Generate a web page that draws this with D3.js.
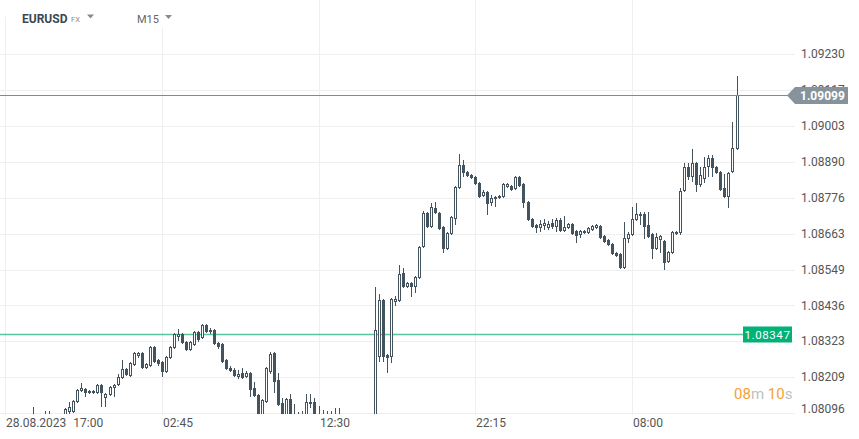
<!DOCTYPE html>
<html><head><meta charset="utf-8">
<script src="https://cdn.jsdelivr.net/npm/d3@7"></script>
<style>
html,body{margin:0;padding:0;background:#fff;}
svg{display:block;font-family:Roboto,"Noto Sans",sans-serif;}
</style></head>
<body><svg id="chart" width="859" height="439"></svg>
<script>
// ---- data ----
const symbol = "EURUSD", market = "FX", interval = "M15";
const firstCandle = "2023-08-28T17:00:00";
const opens = [1.08058,1.08048,1.08061,1.08052,1.08042,1.08058,1.08071,1.08083,1.08077,1.08071,
1.08080,1.08086,1.08090,1.08080,1.08083,1.08090,1.08099,1.08099,1.08131,1.08165,
1.08172,1.08159,1.08165,1.08159,1.08184,1.08143,1.08153,1.08175,1.08184,1.08206,
1.08235,1.08213,1.08248,1.08276,1.08285,1.08238,1.08244,1.08304,1.08263,1.08257,
1.08225,1.08270,1.08301,1.08336,1.08346,1.08320,1.08295,1.08311,1.08352,1.08333,
1.08374,1.08352,1.08358,1.08317,1.08314,1.08263,1.08238,1.08232,1.08210,1.08222,
1.08210,1.08222,1.08175,1.08153,1.08080,1.08131,1.08225,1.08285,1.08200,1.08127,
1.08080,1.08140,1.08086,1.08086,1.08083,1.08086,1.08124,1.08131,1.08086,1.08080,
1.08074,1.08080,1.08071,1.08077,1.08068,1.08061,1.08055,1.08064,1.08058,1.08052,
1.08061,1.08055,1.08058,1.08273,1.08453,1.08279,1.08273,1.08447,1.08450,1.08538,
1.08494,1.08507,1.08494,1.08522,1.08620,1.08728,1.08684,1.08744,1.08728,1.08684,
1.08614,1.08662,1.08709,1.08807,1.08880,1.08857,1.08848,1.08842,1.08823,1.08782,
1.08794,1.08759,1.08772,1.08775,1.08778,1.08810,1.08813,1.08804,1.08842,1.08820,
1.08763,1.08709,1.08690,1.08680,1.08687,1.08680,1.08696,1.08684,1.08706,1.08671,
1.08680,1.08693,1.08671,1.08658,1.08665,1.08665,1.08674,1.08680,1.08687,1.08655,
1.08643,1.08630,1.08601,1.08598,1.08554,1.08646,1.08658,1.08706,1.08725,1.08725,
1.08690,1.08662,1.08614,1.08643,1.08639,1.08573,1.08601,1.08662,1.08665,1.08797,
1.08873,1.08842,1.08886,1.08816,1.08835,1.08873,1.08902,1.08873,1.08857,1.08807,
1.08778,1.08857,1.08930];
const highs = [1.08080,1.08074,1.08077,1.08071,1.08068,1.08077,1.08086,1.08115,1.08086,1.08086,
1.08102,1.08102,1.08093,1.08090,1.08090,1.08112,1.08131,1.08137,1.08172,1.08191,
1.08175,1.08169,1.08169,1.08188,1.08188,1.08159,1.08181,1.08188,1.08219,1.08263,
1.08238,1.08257,1.08289,1.08289,1.08289,1.08254,1.08308,1.08308,1.08267,1.08260,
1.08276,1.08308,1.08349,1.08361,1.08349,1.08323,1.08323,1.08355,1.08355,1.08377,
1.08377,1.08364,1.08361,1.08320,1.08317,1.08267,1.08244,1.08238,1.08232,1.08238,
1.08229,1.08225,1.08194,1.08156,1.08140,1.08241,1.08289,1.08289,1.08222,1.08143,
1.08143,1.08156,1.08124,1.08099,1.08102,1.08156,1.08156,1.08143,1.08118,1.08105,
1.08102,1.08102,1.08112,1.08112,1.08086,1.08080,1.08077,1.08083,1.08080,1.08074,
1.08080,1.08077,1.08494,1.08472,1.08456,1.08282,1.08459,1.08466,1.08564,1.08554,
1.08510,1.08510,1.08529,1.08624,1.08734,1.08731,1.08759,1.08763,1.08731,1.08687,
1.08668,1.08718,1.08813,1.08914,1.08895,1.08861,1.08851,1.08845,1.08826,1.08801,
1.08797,1.08785,1.08782,1.08785,1.08823,1.08823,1.08816,1.08845,1.08845,1.08823,
1.08766,1.08712,1.08693,1.08706,1.08709,1.08703,1.08709,1.08712,1.08712,1.08718,
1.08696,1.08696,1.08674,1.08674,1.08674,1.08684,1.08690,1.08693,1.08690,1.08658,
1.08646,1.08633,1.08605,1.08601,1.08699,1.08668,1.08747,1.08759,1.08731,1.08731,
1.08731,1.08665,1.08665,1.08658,1.08643,1.08608,1.08671,1.08671,1.08807,1.08886,
1.08886,1.08930,1.08889,1.08873,1.08905,1.08911,1.08911,1.08876,1.08861,1.08851,
1.08857,1.09015,1.09161];
const lows = [1.08036,1.08030,1.08042,1.08033,1.08023,1.08045,1.08048,1.08071,1.08061,1.08058,
1.08068,1.08074,1.08071,1.08068,1.08071,1.08083,1.08093,1.08096,1.08127,1.08162,
1.08146,1.08156,1.08156,1.08156,1.08115,1.08115,1.08150,1.08146,1.08181,1.08203,
1.08213,1.08210,1.08244,1.08270,1.08235,1.08235,1.08241,1.08254,1.08244,1.08210,
1.08222,1.08267,1.08298,1.08323,1.08314,1.08292,1.08292,1.08308,1.08320,1.08330,
1.08349,1.08346,1.08311,1.08298,1.08254,1.08232,1.08225,1.08210,1.08203,1.08203,
1.08206,1.08146,1.08146,1.08074,1.08074,1.08127,1.08219,1.08159,1.08118,1.08074,
1.08074,1.08074,1.08068,1.08068,1.08071,1.08080,1.08112,1.08080,1.08074,1.08068,
1.08061,1.08064,1.08058,1.08061,1.08048,1.08042,1.08036,1.08045,1.08039,1.08033,
1.08042,1.08036,1.08042,1.08257,1.08257,1.08222,1.08254,1.08434,1.08447,1.08491,
1.08491,1.08462,1.08475,1.08519,1.08617,1.08680,1.08680,1.08725,1.08674,1.08601,
1.08611,1.08658,1.08690,1.08804,1.08842,1.08842,1.08835,1.08816,1.08775,1.08778,
1.08722,1.08750,1.08747,1.08772,1.08775,1.08807,1.08797,1.08801,1.08810,1.08744,
1.08703,1.08680,1.08665,1.08668,1.08674,1.08674,1.08677,1.08668,1.08668,1.08668,
1.08677,1.08658,1.08633,1.08649,1.08662,1.08662,1.08671,1.08677,1.08646,1.08633,
1.08624,1.08595,1.08589,1.08551,1.08551,1.08633,1.08655,1.08703,1.08690,1.08646,
1.08649,1.08583,1.08611,1.08601,1.08548,1.08570,1.08598,1.08658,1.08658,1.08794,
1.08832,1.08826,1.08794,1.08810,1.08823,1.08842,1.08842,1.08851,1.08797,1.08775,
1.08744,1.08854,1.08927];
const closes = [1.08048,1.08061,1.08052,1.08042,1.08058,1.08071,1.08058,1.08077,1.08071,1.08080,
1.08086,1.08090,1.08080,1.08083,1.08086,1.08109,1.08115,1.08134,1.08169,1.08175,
1.08159,1.08165,1.08159,1.08184,1.08159,1.08156,1.08178,1.08184,1.08210,1.08235,
1.08216,1.08254,1.08285,1.08285,1.08238,1.08251,1.08304,1.08257,1.08251,1.08225,
1.08273,1.08304,1.08346,1.08346,1.08317,1.08295,1.08320,1.08352,1.08327,1.08374,
1.08352,1.08358,1.08314,1.08304,1.08257,1.08235,1.08229,1.08213,1.08219,1.08206,
1.08222,1.08169,1.08150,1.08086,1.08137,1.08238,1.08282,1.08194,1.08121,1.08086,
1.08140,1.08080,1.08080,1.08077,1.08086,1.08131,1.08131,1.08086,1.08080,1.08074,
1.08080,1.08071,1.08077,1.08068,1.08061,1.08055,1.08064,1.08058,1.08052,1.08061,
1.08055,1.08058,1.08358,1.08453,1.08273,1.08270,1.08456,1.08456,1.08535,1.08494,
1.08507,1.08494,1.08526,1.08620,1.08728,1.08684,1.08747,1.08728,1.08677,1.08614,
1.08665,1.08715,1.08810,1.08880,1.08854,1.08845,1.08838,1.08820,1.08778,1.08794,
1.08756,1.08775,1.08778,1.08782,1.08820,1.08820,1.08801,1.08842,1.08813,1.08759,
1.08706,1.08684,1.08680,1.08693,1.08696,1.08693,1.08684,1.08706,1.08671,1.08684,
1.08693,1.08662,1.08655,1.08671,1.08671,1.08680,1.08687,1.08690,1.08649,1.08636,
1.08627,1.08598,1.08592,1.08554,1.08649,1.08662,1.08709,1.08725,1.08718,1.08684,
1.08652,1.08614,1.08652,1.08655,1.08570,1.08605,1.08668,1.08668,1.08797,1.08873,
1.08842,1.08886,1.08816,1.08848,1.08873,1.08902,1.08870,1.08854,1.08801,1.08778,
1.08854,1.08933,1.09099];
const yTickLabels = ["1.09230","1.09117","1.09003","1.08890","1.08776","1.08663","1.08549","1.08436","1.08323","1.08209","1.08096"];
const xTickTimes = ["2023-08-28T17:00:00","2023-08-29T02:45:00","2023-08-29T12:30:00","2023-08-29T22:15:00","2023-08-30T08:00:00"];
const xTickLabels = [["28.08.2023","17:00"],["02:45"],["12:30"],["22:15"],["08:00"]];
const currentPrice = 1.09099;
const levelPrice = 1.08347;
const timerParts = [["08","o"],["m","g"],[" 10","o"],["s","g"]];

// ---- layout ----
const plotBottom = 414, gridRight = 795, axisX = 801;
const dark = "#44545f";
const svg = d3.select("#chart");

const t0 = new Date(firstCandle);
const data = opens.map((o, i) => ({
  t: d3.timeMinute.offset(t0, 15 * i), o, h: highs[i], l: lows[i], c: closes[i]
}));

const x = d3.scaleTime()
  .domain([new Date(xTickTimes[0]), new Date(xTickTimes[4])])
  .range([5, 632]);
const y = d3.scaleLinear()
  .domain([+yTickLabels[10], +yTickLabels[0]])
  .range([413, 54]);

// grid
const grid = svg.append("g");
grid.selectAll("line.h").data(yTickLabels).join("line")
  .attr("x1", 0).attr("x2", gridRight)
  .attr("y1", d => Math.round(y(+d)) + 0.5).attr("y2", d => Math.round(y(+d)) + 0.5)
  .attr("stroke", "#efefef").attr("stroke-width", 1);
grid.selectAll("line.v").data(xTickTimes).join("line")
  .attr("x1", d => Math.round(x(new Date(d))) + 0.5).attr("x2", d => Math.round(x(new Date(d))) + 0.5)
  .attr("y1", 0).attr("y2", plotBottom + 1)
  .attr("stroke", "#efefef").attr("stroke-width", 1);

// header masks
svg.append("rect").attr("x", 0).attr("y", 0).attr("width", 112).attr("height", 17).attr("fill", "#fff");
svg.append("rect").attr("x", 118).attr("y", 0).attr("width", 70).attr("height", 27).attr("fill", "#fff");

// clip
svg.append("clipPath").attr("id", "clip").append("rect")
  .attr("x", 0).attr("y", 0).attr("width", 790).attr("height", plotBottom);

// level line (green)
const ly = Math.round(y(levelPrice)) + 0.5;
svg.append("line").attr("x1", 0).attr("x2", 744).attr("y1", ly).attr("y2", ly)
  .attr("stroke", "#1fb47f").attr("stroke-width", 1.6).attr("opacity", 0.75);

// candles
const cg = svg.append("g").attr("clip-path", "url(#clip)");
const px = d => Math.round(x(d.t));
cg.selectAll("line.wick").data(data).join("line")
  .attr("x1", d => px(d) + 0.5).attr("x2", d => px(d) + 0.5)
  .attr("y1", d => Math.round(y(d.h))).attr("y2", d => Math.round(y(d.l)))
  .attr("stroke", dark).attr("stroke-width", 1);
cg.selectAll("rect.body").data(data).join("rect")
  .each(function (d) {
    const yo = Math.round(y(d.o)), yc = Math.round(y(d.c));
    const el = d3.select(this);
    if (d.c > d.o) {
      const hgt = Math.max(1, yo - yc);
      el.attr("x", px(d) - 0.5).attr("width", 2)
        .attr("y", yc + 0.5).attr("height", hgt - 1 < 1 ? 1 : hgt - 1)
        .attr("fill", "#fff").attr("stroke", dark).attr("stroke-width", 1);
    } else {
      const hgt = Math.max(2, yc - yo);
      el.attr("x", px(d) - 1).attr("width", 3)
        .attr("y", yo).attr("height", hgt)
        .attr("fill", dark);
    }
  });

// current price line
const cy = Math.round(y(currentPrice)) + 0.5;
svg.append("line").attr("x1", 0).attr("x2", 789).attr("y1", cy).attr("y2", cy)
  .attr("stroke", "#7f8c92").attr("stroke-width", 1);

// y axis labels
svg.append("g").selectAll("text").data(yTickLabels).join("text")
  .attr("x", axisX).attr("y", d => Math.min(y(+d), 409))
  .attr("dy", "0.35em")
  .attr("font-size", 12).attr("fill", "#555")
  .text(d => d);

// current price tag
const tag = svg.append("g");
tag.append("path")
  .attr("d", `M787,${cy} L795,${cy - 8.5} L848,${cy - 8.5} L848,${cy + 8.5} L795,${cy + 8.5} Z`)
  .attr("fill", "#86939a");
tag.append("text").attr("x", 800).attr("y", cy).attr("dy", "0.36em")
  .attr("font-size", 12).attr("font-weight", "bold").attr("fill", "#fff")
  .text(d3.format(".5f")(currentPrice));

// level tag
const lt = svg.append("g");
lt.append("rect").attr("x", 743).attr("y", ly - 8).attr("width", 49).attr("height", 16)
  .attr("fill", "#00b277");
lt.append("text").attr("x", 767.5).attr("y", ly).attr("dy", "0.36em")
  .attr("text-anchor", "middle").attr("font-size", 11.5).attr("letter-spacing", 0.6)
  .attr("fill", "#fff").text(d3.format(".5f")(levelPrice));

// x axis labels
const xl = svg.append("g");
xTickTimes.forEach((t, i) => {
  const tx = xl.append("text").attr("x", Math.round(x(new Date(t))) + 1).attr("y", 423)
    .attr("dy", "0.35em").attr("font-size", 12).attr("fill", "#555");
  xTickLabels[i].forEach((s, j) => {
    tx.append("tspan").attr("dx", j > 0 ? 7 : 0).text(s);
  });
});

// countdown timer
const tm = svg.append("text").attr("x", 734).attr("y", 399).attr("font-size", 15);
timerParts.forEach(([s, c]) => {
  tm.append("tspan").attr("fill", c === "o" ? "#f5a136" : "#c0c0c0").text(s);
});

// header
svg.append("text").attr("x", 22).attr("y", 23).attr("font-size", 12).attr("font-weight", "bold")
  .attr("fill", "#3b4852").text(symbol);
svg.append("text").attr("x", 71).attr("y", 22).attr("font-size", 7.5)
  .attr("fill", "#8a8a8a").text(market);
svg.append("path").attr("d", "M87,14.5 L94,14.5 L90.5,18.5 Z").attr("fill", "#8a8a8a");
svg.append("text").attr("x", 137).attr("y", 23).attr("font-size", 11)
  .attr("fill", "#666").text(interval);
svg.append("path").attr("d", "M165,15 L172,15 L168.5,19 Z").attr("fill", "#8a8a8a");
</script>
</body></html>
